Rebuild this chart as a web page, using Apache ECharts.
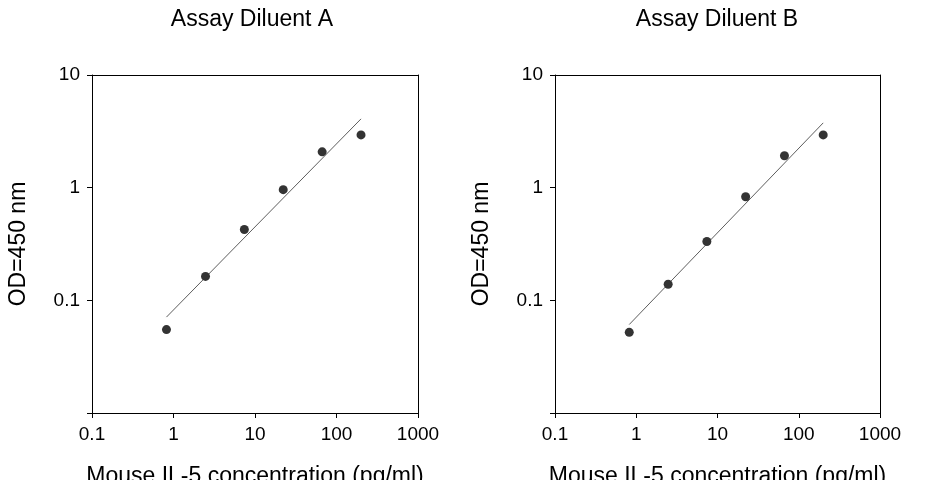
<!DOCTYPE html>
<html>
<head>
<meta charset="utf-8">
<script src="https://cdn.jsdelivr.net/npm/echarts@6/dist/echarts.min.js"></script>
<style>html,body{margin:0;background:#fff}#c{width:926px;height:480px}</style>
</head>
<body>
<div id="c"></div>
<script>
var conc = [0.82, 2.47, 7.4, 22.2, 66.7, 200];
var odA = [0.055, 0.163, 0.425, 0.96, 2.08, 2.94];
var odB = [0.052, 0.139, 0.333, 0.83, 1.92, 2.94];
var fitA = [[0.82, 0.071], [200, 4.08]];
var fitB = [[0.82, 0.061], [200, 3.76]];
var titles = ['Assay Diluent A', 'Assay Diluent B'];

var font = 'Liberation Sans, Arial, sans-serif';
var chart = echarts.init(document.getElementById('c'));

function xAxis(i) {
    return {
        type: 'log', gridIndex: i, min: 0.1, max: 1000, logBase: 10,
        name: 'Mouse IL-5 concentration (pg/ml)', nameLocation: 'middle', nameGap: 52,
        nameTextStyle: {fontSize: 23, color: '#000', fontFamily: font},
        axisLine: {show: true, lineStyle: {color: '#000'}},
        axisTick: {show: true, inside: false, length: 5, lineStyle: {color: '#000'}},
        axisLabel: {fontSize: 19, color: '#000', fontFamily: font, margin: 12,
            formatter: function (v) { return String(+v.toPrecision(3)); }},
        splitLine: {show: false},
        minorTick: {show: false}
    };
}
function yAxis(i) {
    return {
        type: 'log', gridIndex: i, min: 0.01, max: 10, logBase: 10,
        name: 'OD=450 nm', nameLocation: 'middle', nameGap: 62,
        nameTextStyle: {fontSize: 23, color: '#000', fontFamily: font},
        axisLine: {show: true, lineStyle: {color: '#000'}},
        axisTick: {show: true, length: 5, lineStyle: {color: '#000'}},
        axisLabel: {fontSize: 19, color: '#000', fontFamily: font, margin: 12,
            formatter: function (v) { return v < 0.05 ? '' : String(+v.toPrecision(3)); }},
        splitLine: {show: false}
    };
}
function box(i) {
    return [
        {type: 'log', gridIndex: i, position: 'top', min: 0.1, max: 1000,
         axisLine: {show: true, lineStyle: {color: '#000'}}, axisTick: {show: false},
         axisLabel: {show: false}, splitLine: {show: false}},
        {type: 'log', gridIndex: i, position: 'right', min: 0.01, max: 10,
         axisLine: {show: true, lineStyle: {color: '#000'}}, axisTick: {show: false},
         axisLabel: {show: false}, splitLine: {show: false}}
    ];
}
var bA = box(0), bB = box(1);

chart.setOption({
    backgroundColor: '#fff',
    animation: false,
    title: [
        {text: titles[0], left: 247, top: 3, textAlign: 'center',
         textStyle: {fontSize: 23, fontWeight: 'normal', color: '#000', fontFamily: font}},
        {text: titles[1], left: 712, top: 3, textAlign: 'center',
         textStyle: {fontSize: 23, fontWeight: 'normal', color: '#000', fontFamily: font}}
    ],
    grid: [
        {left: 92, top: 75, width: 326, height: 338, outerBoundsMode: 'none'},
        {left: 555, top: 75, width: 325, height: 338, outerBoundsMode: 'none'}
    ],
    xAxis: [xAxis(0), xAxis(1), bA[0], bB[0]],
    yAxis: [yAxis(0), yAxis(1), bA[1], bB[1]],
    series: [
        {type: 'line', xAxisIndex: 0, yAxisIndex: 0, data: fitA, symbol: 'none',
         lineStyle: {color: '#333', width: 0.8}},
        {type: 'scatter', xAxisIndex: 0, yAxisIndex: 0, symbolSize: 9,
         itemStyle: {color: '#000'}, data: conc.map(function (c, k) { return [c, odA[k]]; })},
        {type: 'line', xAxisIndex: 1, yAxisIndex: 1, data: fitB, symbol: 'none',
         lineStyle: {color: '#333', width: 0.8}},
        {type: 'scatter', xAxisIndex: 1, yAxisIndex: 1, symbolSize: 9,
         itemStyle: {color: '#000'}, data: conc.map(function (c, k) { return [c, odB[k]]; })}
    ]
});
</script>
</body>
</html>
